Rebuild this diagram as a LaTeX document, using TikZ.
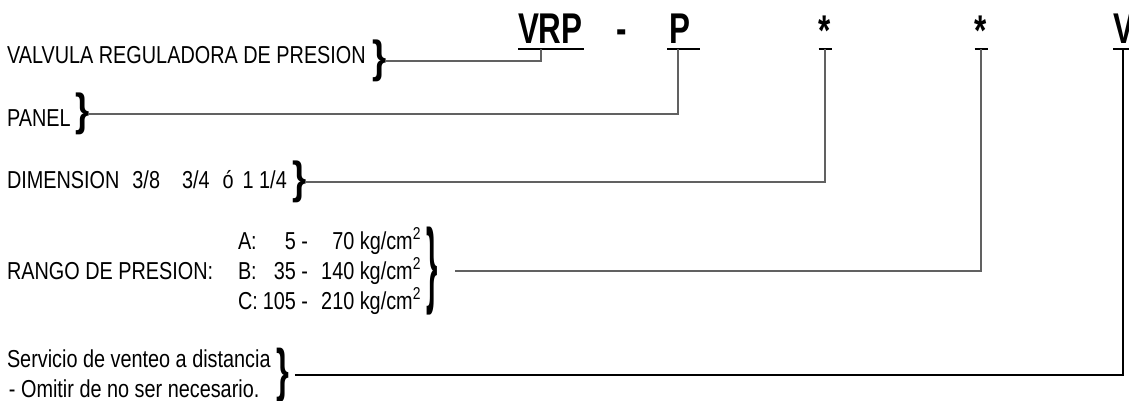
\documentclass[tikz,border=0pt]{standalone}
\usepackage{fontspec}
\setmainfont{Liberation Sans}[FakeStretch=0.81]
\newfontfamily\codefont{Liberation Sans}[FakeStretch=0.73]
\begin{document}
\begin{tikzpicture}[x=1pt,y=-1pt,
  every node/.style={inner sep=0pt, outer sep=0pt},
  lbl/.style={anchor=base west, font=\fontsize{24.5}{27}\selectfont},
  code/.style={anchor=base, font=\codefont\bfseries\fontsize{43}{45}\selectfont},
  brc/.style={anchor=west, font=\bfseries\fontsize{45}{45}\selectfont},
  conn/.style={line width=1.3pt, draw=black!62},
  uline/.style={line width=2pt}]
\useasboundingbox (0,0) rectangle (1129,401);
% code
\node[code, anchor=base west] (vrp) at (518,44) {VRP};
\node[code] (dash) at (622,44) {-};
\node[code, anchor=base west] (p) at (669,44) {P};
\node[code] (s1) at (825,46) {*};
\node[code] (s2) at (981,46) {*};
\node[code, anchor=base west] (v) at (1113,44) {V};
% tick points
\coordinate (tVRP) at (541,49);
\coordinate (tP) at (678,49);
\coordinate (k1) at (825,49);
\coordinate (k2) at (981,49);
\coordinate (k3) at (1123,49);
\draw[uline] (518,49) -- (584,49);
\draw[uline] (667,49) -- (700,49);
\draw[uline] ([xshift=-6.5pt]k1) -- ([xshift=6.5pt]k1);
\draw[uline] ([xshift=-6.5pt]k2) -- ([xshift=6.5pt]k2);
\draw[uline] (1113,49) -- (1135,49);
% labels
\node[lbl] (val) at (7,64) {VALVULA REGULADORA DE PRESION};
\node[lbl] (pan) at (7,127) {PANEL};
\node[lbl] (dim) at (7,188) {DIMENSION\hspace{13pt}3/8\hspace{22pt}3/4\hspace{13pt}ó\hspace{9pt}1 1/4};
\node[lbl] (rng) at (7,279) {RANGO DE PRESION:};
\node[lbl] (la) at (238,249) {A:};
\node[lbl, anchor=base east] (na) at (308,249) {5 -};
\node[lbl, anchor=base east] (ua) at (421,249) {70 kg/cm\textsuperscript{2}};
\node[lbl] (lb) at (238,279) {B:};
\node[lbl, anchor=base east] (nb) at (308,279) {35 -};
\node[lbl, anchor=base east] (ub) at (421,279) {140 kg/cm\textsuperscript{2}};
\node[lbl] (lc) at (238,309) {C:};
\node[lbl, anchor=base east] (nc) at (308,309) {105 -};
\node[lbl, anchor=base east] (uc) at (421,309) {210 kg/cm\textsuperscript{2}};
\node[lbl] (sv) at (7,367) {Servicio de venteo a distancia};
\node[lbl] (om) at (9,397) {- Omitir de no ser necesario.};
% braces
\node[brc] (b1) at (372,61) {\}};
\node[brc] (b2) at (75,114) {\}};
\node[brc] (b3) at (292,182) {\}};
\node[brc] (b4) at (426,271) {\scalebox{0.8}[2.1]{\}}};
\node[brc] (b5) at (276,375) {\scalebox{0.9}[1.3]{\}}};
% connectors
\draw[conn] (b1.east) -| (tVRP);
\draw[conn] (b2.east) -| (tP);
\draw[conn] (b3.east) -| (k1);
\draw[conn] ([xshift=18pt]b4.east) -| (k2);
\draw[conn, draw=black] ([xshift=6pt]b5.east) -| (k3);
\end{tikzpicture}
\end{document}
